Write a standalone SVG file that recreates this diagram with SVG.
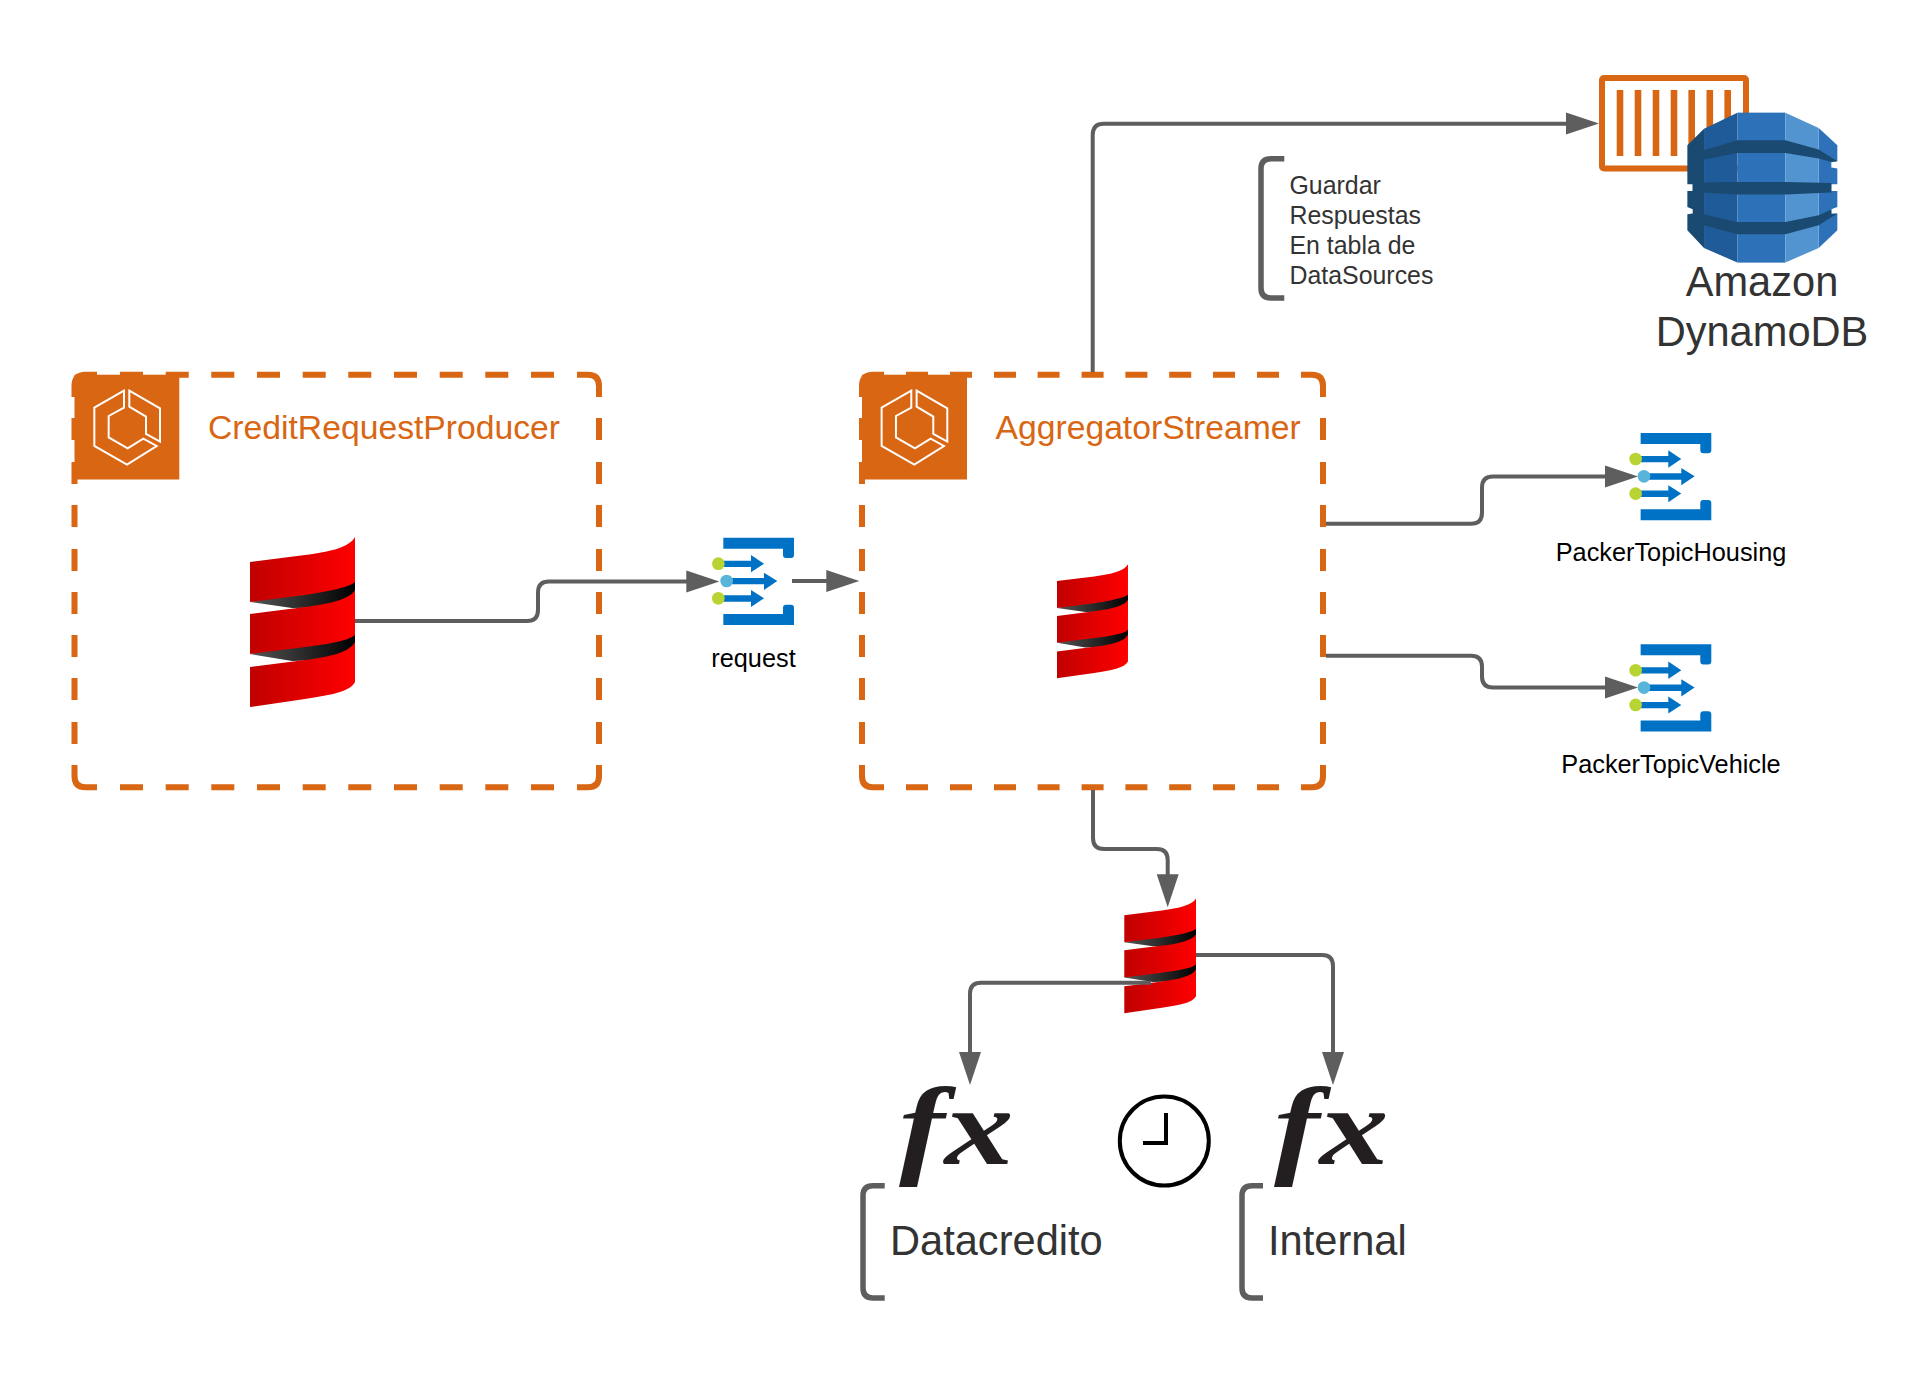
<svg xmlns="http://www.w3.org/2000/svg" xmlns:xlink="http://www.w3.org/1999/xlink" width="1913" height="1373" viewBox="0 0 1913 1373">
<style>
text{font-family:"Liberation Sans",Arial,sans-serif}
.dash{fill:none;stroke:#d86613;stroke-width:6}
.ecs{fill:none;stroke:#fff;stroke-width:6;stroke-linejoin:miter}
.conn{fill:none;stroke:#5e5e5e;stroke-width:4}
.head{fill:#5e5e5e}
.brk{fill:none;stroke:#5e5e5e;stroke-width:5.5}
.orange{fill:#d86613}
.title{font-size:33.7px;fill:#d86613}
.small{font-size:25.3px;fill:#000}
.note{font-size:24.9px;fill:#333}
.big{font-size:41.6px;fill:#333}
.fx{font-family:"Liberation Serif","Times New Roman",serif;font-weight:bold;font-style:italic;font-size:110px;fill:#231f20}
.hb{fill:#0072c6}
</style>
<defs>
<linearGradient id="red" x1="0" x2="1" y1="0" y2="0"><stop offset="0" stop-color="#c00000"/><stop offset="1" stop-color="#ff0000"/></linearGradient>
<linearGradient id="blk" x1="0" x2="1" y1="0" y2="0"><stop offset="0" stop-color="#555"/><stop offset="1" stop-color="#000"/></linearGradient>
<g id="scala">
<path fill="url(#blk)" d="M0,65 L60,52 C85,49 100,46 105,44 V70 L42,71 Z"/>
<path fill="url(#blk)" d="M0,117 L60,104 C85,101 100,99 105,97 V122 L42,124 Z"/>
<path fill="url(#red)" d="M0,25 L55,18 C80,15 100,10 105,0 V45 C100,50 80,54 55,58 L0,65 Z"/>
<path fill="url(#red)" d="M0,77 L55,70 C80,67 100,62 105,53 V98 C100,103 80,107 55,110 L0,117 Z"/>
<path fill="url(#red)" d="M0,130 L55,123 C80,120 100,115 105,105 V145 C100,155 80,158 55,162 L0,170 Z"/>
</g>
<g id="hub">
<path class="hb" d="M100,83H312V135q0,9 -9,9H288q-9,0 -9,-9V116H100Z"/>
<path class="hb" d="M100,345H312V293q0,-9 -9,-9H288q-9,0 -9,9V312H100Z"/>
<path class="hb" d="M100,152H183V135L222,161 183,187V171H100Z"/>
<path class="hb" d="M125,204H222V188L262,213 222,240V223H125Z"/>
<path class="hb" d="M100,256H183V240L222,265 183,291V275H100Z"/>
<circle cx="85" cy="161" r="19" fill="#b8d432"/>
<circle cx="85" cy="265" r="19" fill="#b8d432"/>
<circle cx="110" cy="213" r="19" fill="#59b4d9"/>
</g>
<g id="ecsicon">
<path class="ecs" d="M192,92 103,143V258L201,314 290,258 250,236 203,265 146,232V168L192,143Z"/>
<path class="ecs" d="M208,92 300,145V245L258,222V170L208,140Z"/>
</g>
<path id="ah" class="head" d="M0,0 L-33,-11 V11 Z"/>
</defs>

<g id="credit-request-producer">
<rect class="orange" x="74.5" y="374.7" width="104.8" height="104.8"/>
<path class="dash" d="M74.5,397V386q0,-11.3 11,-11.3H97M577,374.7H588q11,0 11,11.3V397M599,765V776q0,11.3 -11,11.3H577M97,787.3H85.5q-11,0 -11,-11.3V765
M120,374.7h23M165.7,374.7h23M211.3,374.7h23M257,374.7h23M302.7,374.7h23M348.3,374.7h23M394,374.7h23M439.7,374.7h23M485.3,374.7h23M531,374.7h23
M120,787.3h23M165.7,787.3h23M211.3,787.3h23M257,787.3h23M302.7,787.3h23M348.3,787.3h23M394,787.3h23M439.7,787.3h23M485.3,787.3h23M531,787.3h23
M74.5,418v22M74.5,462v22M74.5,505v22M74.5,549v22M74.5,592v22M74.5,635v22M74.5,678v22M74.5,722v22
M599,418v22M599,462v22M599,505v22M599,549v22M599,592v22M599,635v22M599,678v22M599,722v22"/>
<use href="#ecsicon" transform="translate(60,360) scale(.3333)"/>
<text class="title" x="208" y="439">CreditRequestProducer</text>
<use href="#scala" transform="translate(250,537)"/>
</g>

<g id="aggregator-streamer">
<rect class="orange" x="862" y="374.7" width="105" height="104.8"/>
<path class="dash" d="M862,397V386q0,-11.3 11,-11.3H884M1301,374.7H1312q11,0 11,11.3V397M1323,765V776q0,11.3 -11,11.3H1301M884,787.3H873q-11,0 -11,-11.3V765
M906,374.7h22M950,374.7h22M994,374.7h22M1037.6,374.7h22M1081.6,374.7h22M1125.4,374.7h22M1169.2,374.7h22M1213,374.7h22M1257,374.7h22
M906,787.3h22M950,787.3h22M994,787.3h22M1037.6,787.3h22M1081.6,787.3h22M1125.4,787.3h22M1169.2,787.3h22M1213,787.3h22M1257,787.3h22
M862,418v22M862,462v22M862,505v22M862,549v22M862,592v22M862,635v22M862,678v22M862,722v22
M1323,418v22M1323,462v22M1323,505v22M1323,549v22M1323,592v22M1323,635v22M1323,678v22M1323,722v22"/>
<use href="#ecsicon" transform="translate(847.3,360) scale(.3333)"/>
<text class="title" x="995.5" y="439">AggregatorStreamer</text>
<use href="#scala" transform="translate(1057,564.3) scale(.676,.671)"/>
</g>

<g id="request-topic">
<use href="#hub" transform="translate(690,510) scale(.3333)"/>
<text class="small" x="753.5" y="667" text-anchor="middle">request</text>
</g>
<g id="packer-topic-housing">
<use href="#hub" transform="translate(1607.3,405.3) scale(.3333)"/>
<text class="small" x="1671" y="561" text-anchor="middle">PackerTopicHousing</text>
</g>
<g id="packer-topic-vehicle">
<use href="#hub" transform="translate(1607.3,616.6) scale(.3333)"/>
<text class="small" x="1671" y="772.7" text-anchor="middle">PackerTopicVehicle</text>
</g>

<g id="dynamodb-table">
<rect x="1602" y="78" width="144" height="90.5" rx="2" fill="none" stroke="#d86613" stroke-width="6"/>
<g class="orange"><rect x="1616.7" y="90" width="6.6" height="66"/><rect x="1634.7" y="90" width="6.6" height="66"/><rect x="1652.7" y="90" width="6.6" height="66"/><rect x="1670.7" y="90" width="6.6" height="66"/><rect x="1688.4" y="90" width="6.6" height="66"/><rect x="1706.5" y="90" width="6.6" height="66"/><rect x="1724.4" y="90" width="6.6" height="66"/></g>
<g transform="translate(1580.7,60.3) scale(.3333)">
<polygon fill="#1a4a72" points="320,255 370,205 370,563 320,510 320,462 336,460 336,447 320,440 320,392 336,392 336,372 320,372"/>
<polygon fill="#2d72b8" points="714,203 770,255 770,303 752,305 752,322 770,325 770,372 752,372 752,392 770,392 770,440 752,447 752,460 770,460 770,510 714,563"/>
<polygon fill="#1f5b98" points="370,205 470,157 470,607 370,563"/>
<rect fill="#2d72b8" x="470" y="157" width="144" height="450"/>
<polygon fill="#5294cf" points="614,157 714,203 714,563 614,607"/>
<polygon fill="#1a4a72" points="370,270 470,240 614,240 714,268 770,303 752,305 714,295 614,278 470,278 370,298"/>
<polygon fill="#1a4a72" points="336,367 470,365 614,365 752,368 752,397 614,403 470,403 370,397 336,392"/>
<polygon fill="#1a4a72" points="370,463 470,485 614,485 714,465 752,448 752,462 770,460 714,495 614,522 470,522 370,495"/>
</g>
<text class="big" x="1762" y="296" text-anchor="middle">Amazon</text>
<text class="big" x="1762" y="346" text-anchor="middle">DynamoDB</text>
</g>

<g id="note-guardar">
<path class="brk" d="M1284.3,158.7H1271q-10,0 -10,10V288q0,10 10,10H1284.3"/>
<text class="note" x="1289.5" y="193.8">Guardar</text>
<text class="note" x="1289.5" y="223.8">Respuestas</text>
<text class="note" x="1289.5" y="253.8">En tabla de</text>
<text class="note" x="1289.5" y="283.8">DataSources</text>
</g>

<g id="scala-scheduler"><use href="#scala" transform="translate(1124.3,898.3) scale(.683,.676)"/></g>

<g id="fx-datacredito"><text class="fx" transform="translate(899,1164) scale(1.25,1)">fx</text></g>
<g id="fx-internal"><text class="fx" transform="translate(1274,1164) scale(1.25,1)">fx</text></g>

<g id="clock">
<circle cx="1164.3" cy="1141" r="44.5" fill="none" stroke="#000" stroke-width="4"/>
<path d="M1166,1113V1143H1143" fill="none" stroke="#000" stroke-width="4"/>
</g>

<g id="label-datacredito">
<path class="brk" d="M884.7,1185.7H873q-10,0 -10,10V1288q0,10 10,10H884.7"/>
<text class="big" x="890" y="1255">Datacredito</text>
</g>
<g id="label-internal">
<path class="brk" d="M1263,1185.7H1252q-10,0 -10,10V1288q0,10 10,10H1263"/>
<text class="big" x="1268" y="1255">Internal</text>
</g>

<g id="connectors">
<path class="conn" d="M355,621H527q11,0 11,-11V592.5q0,-11 11,-11H690"/>
<use href="#ah" transform="translate(719.3,581.5)"/>
<path class="conn" d="M792,581H828"/>
<use href="#ah" transform="translate(859.3,581)"/>
<path class="conn" d="M1092.7,372V135q0,-11.3 11,-11.3H1570"/>
<use href="#ah" transform="translate(1599,123.5)"/>
<path class="conn" d="M1326,523.7H1471q11,0 11,-11V487.5q0,-11 11,-11H1608"/>
<use href="#ah" transform="translate(1638,476.5)"/>
<path class="conn" d="M1326,655.7H1471q11,0 11,11V676.5q0,11 11,11H1608"/>
<use href="#ah" transform="translate(1638,687.5)"/>
<path class="conn" d="M1093,790V838q0,11 11,11H1156.7q11,0 11,11V877"/>
<use href="#ah" transform="translate(1167.7,907.3) rotate(90)"/>
<path class="conn" d="M1196,955H1322q11,0 11,11V1055"/>
<use href="#ah" transform="translate(1333,1085) rotate(90)"/>
<path class="conn" d="M1151,982.7H981q-11,0 -11,11V1055"/>
<use href="#ah" transform="translate(970,1085) rotate(90)"/>
</g>
</svg>
